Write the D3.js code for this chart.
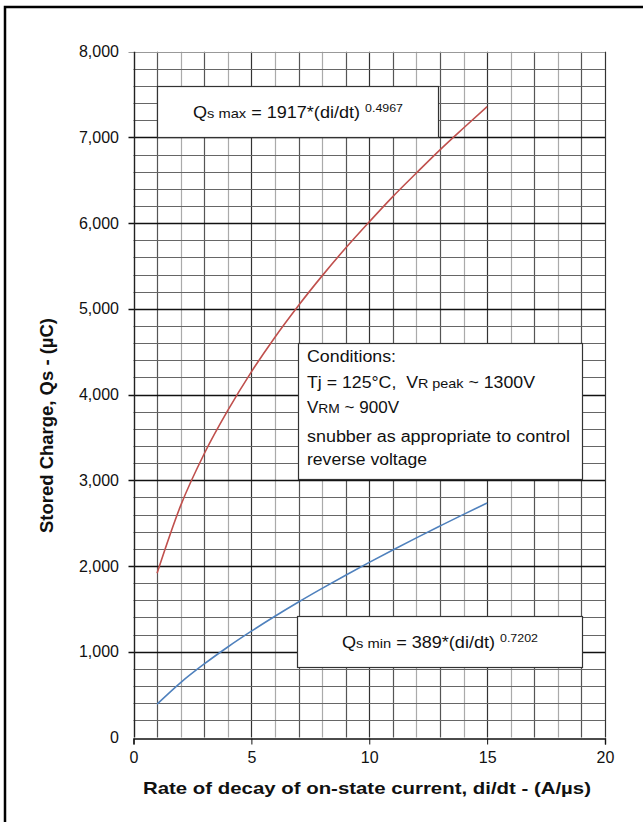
<!DOCTYPE html>
<html>
<head>
<meta charset="utf-8">
<script src="https://cdn.jsdelivr.net/npm/d3@7"></script>
<style>
    body { margin: 0; background: #fff; }
    svg text { font-family: "Liberation Sans", Arial, sans-serif; fill: #111; }
</style>
</head>
<body>
<div id="chart"></div>
<script>
// Values (di/dt in A/us, Qs in uC)
const diDt = [1, 2, 3, 4, 5, 6, 7, 8, 9, 10, 11, 12, 13, 14, 15]
const qsMax = [1917, 2705, 3310, 3815, 4265, 4670, 5040, 5385, 5710, 6015, 6310, 6585, 6855, 7110, 7360]
const qsMin = [389, 641, 858, 1056, 1240, 1414, 1580, 1739, 1893, 2043, 2188, 2329, 2467, 2603, 2735]
const xTicks = [0, 5, 10, 15, 20]
const yTicks = [0, 1000, 2000, 3000, 4000, 5000, 6000, 7000, 8000]
const conditionLines = [
    'Conditions:',
    'Tj = 125°C,  VR peak ~ 1300V',
    'VRM ~ 900V',
    'snubber as appropriate to control',
    'reverse voltage'
]

const width = 643
const height = 822
const margin = { top: 51.7, right: 38, bottom: 84.5, left: 133.5 }

const svg = d3.select('#chart')
    .append('svg')
    .attr('width', width)
    .attr('height', height)

// outer frame, only top + left edges visible in the crop
svg.append('path')
    .attr('d', `M5,${height + 5}V7H${width + 5}`)
    .attr('fill', 'none')
    .attr('stroke', '#000')
    .attr('stroke-width', 2.5)

const x = d3.scaleLinear().domain([0, 20]).range([margin.left, width - margin.right])
const y = d3.scaleLinear().domain([0, 8000]).range([height - margin.bottom, margin.top])

const grid = svg.append('g')

// minor grid
grid.selectAll('.vx')
    .data(d3.range(1, 21))
    .enter()
    .append('line')
    .attr('x1', d => Math.round(x(d)) + 0.5)
    .attr('x2', d => Math.round(x(d)) + 0.5)
    .attr('y1', y(8000))
    .attr('y2', y(0))
    .attr('stroke', d => d % 5 === 0 ? '#333' : (d % 2 === 0 ? '#aaa' : '#555'))
    .attr('stroke-width', 1.2)

grid.selectAll('.hy')
    .data(d3.range(200, 8001, 200))
    .enter()
    .append('line')
    .attr('x1', d => d % 1000 === 0 ? x(0) - 5 : x(0))
    .attr('x2', x(20))
    .attr('y1', d => Math.round(y(d)) + 0.5)
    .attr('y2', d => Math.round(y(d)) + 0.5)
    .attr('stroke', d => d === 8000 ? '#999' : (d % 1000 === 0 ? '#111' : '#666'))
    .attr('stroke-width', d => d % 1000 === 0 && d !== 8000 ? 1.4 : 1)

// axes lines
svg.append('line')
    .attr('x1', Math.round(x(0)) + 0.5).attr('x2', Math.round(x(0)) + 0.5)
    .attr('y1', y(8000)).attr('y2', y(0))
    .attr('stroke', '#222').attr('stroke-width', 1.4)

const xAxis = svg.append('g')
    .attr('transform', `translate(0,${Math.round(y(0)) + 0.5})`)
    .call(d3.axisBottom(x).tickValues(xTicks).tickSize(6).tickPadding(7))
xAxis.select('.domain').attr('stroke', '#111').attr('stroke-width', 1.4)
xAxis.selectAll('line').attr('stroke', '#111')
xAxis.selectAll('text')
    .attr('font-size', 16)
    .attr('font-family', '"Liberation Sans", Arial, sans-serif')
    .attr('fill', '#111')

svg.append('g')
    .selectAll('text')
    .data(yTicks)
    .enter()
    .append('text')
    .attr('x', 119)
    .attr('y', d => y(d))
    .attr('dy', '0.35em')
    .attr('text-anchor', 'end')
    .attr('font-size', 16)
    .text(d3.format(','))

// axis titles (the source picture is a bit stretched sideways, so pin widths)
svg.append('text')
    .attr('x', 143)
    .attr('y', 794)
    .attr('font-size', 17)
    .attr('font-weight', 'bold')
    .attr('textLength', 448)
    .attr('lengthAdjust', 'spacingAndGlyphs')
    .text('Rate of decay of on-state current, di/dt - (A/µs)')

svg.append('text')
    .attr('transform', `translate(53,${533}) rotate(-90)`)
    .attr('font-size', 18)
    .attr('font-weight', 'bold')
    .attr('textLength', 215)
    .attr('lengthAdjust', 'spacingAndGlyphs')
    .text('Stored Charge, Qs - (µC)')

// curves
const line = d3.line()
    .x((d, i) => x(diDt[i]))
    .y(d => y(d))
    .curve(d3.curveMonotoneX)

svg.append('path')
    .datum(qsMax)
    .attr('d', line)
    .attr('fill', 'none')
    .attr('stroke', '#c0504d')
    .attr('stroke-width', 1.6)

svg.append('path')
    .datum(qsMin)
    .attr('d', line)
    .attr('fill', 'none')
    .attr('stroke', '#4f81bd')
    .attr('stroke-width', 1.6)

// annotation boxes
function box(x0, y0, w, h) {
    svg.append('rect')
        .attr('x', x0 + 0.5).attr('y', y0 + 0.5)
        .attr('width', w).attr('height', h)
        .attr('fill', '#fff')
        .attr('stroke', '#333')
        .attr('stroke-width', 1.2)
}

function formulaText(x0, by, sub, coef, exp, len) {
    const t = svg.append('text')
        .attr('x', x0)
        .attr('y', by)
        .attr('font-size', 16)
        .attr('textLength', len)
        .attr('lengthAdjust', 'spacingAndGlyphs')
    t.append('tspan').text('Q')
    t.append('tspan').attr('font-size', 13).text(sub)
    t.append('tspan').text(` = ${coef}*(di/dt) `)
    t.append('tspan').attr('font-size', 11).attr('dy', -6).text(exp)
}

box(157, 86, 281, 51)
formulaText(193, 118, 's max', 1917, '0.4967', 210)

box(297, 616, 285, 51)
formulaText(342, 648, 's min', 389, '0.7202', 196)

box(298, 343, 284, 136)
const cond = svg.append('g')
const condY = [362, 388, 413, 442, 465]
const condLen = [89, 228, 92, 263, 120]
conditionLines.forEach((s, i) => {
    const t = cond.append('text')
        .attr('x', 307)
        .attr('y', condY[i])
        .attr('font-size', 16)
        .attr('textLength', condLen[i])
        .attr('lengthAdjust', 'spacingAndGlyphs')
    if (i === 1) {
        t.append('tspan').text('Tj = 125°C,\u00a0 V')
        t.append('tspan').attr('font-size', 13).text('R peak')
        t.append('tspan').text(' ~ 1300V')
    } else if (i === 2) {
        t.append('tspan').text('V')
        t.append('tspan').attr('font-size', 13).text('RM')
        t.append('tspan').text(' ~ 900V')
    } else {
        t.text(s)
    }
})
</script>
</body>
</html>
